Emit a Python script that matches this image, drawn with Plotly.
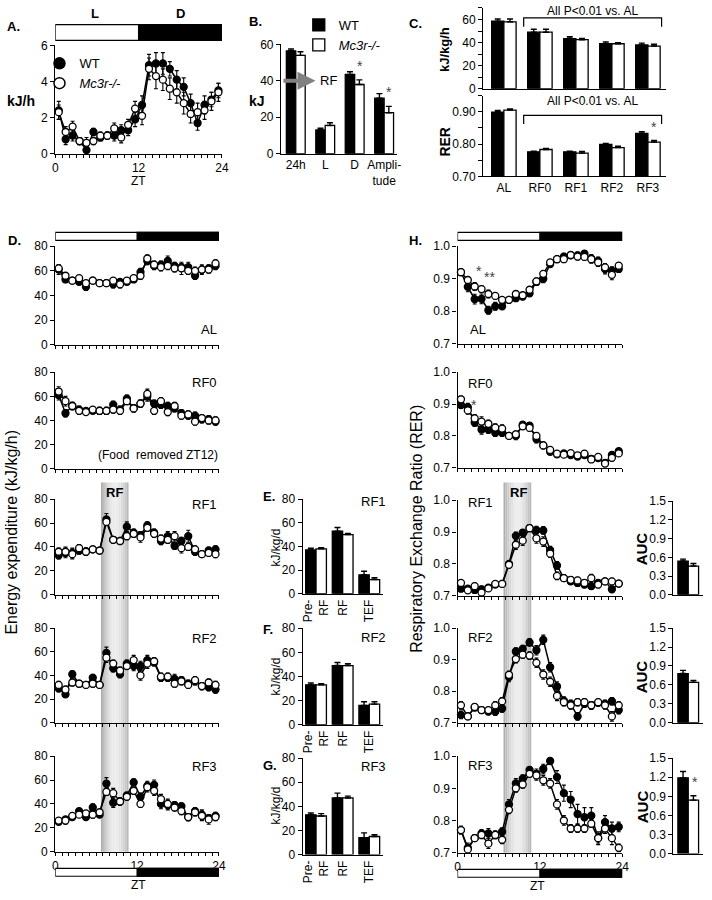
import math
import plotly.graph_objects as go

W, H = 712, 900

# ---------------- data ----------------
ZT = [0.5, 1.5, 2.5, 3.5, 4.5, 5.5, 6.5, 7.5, 8.5, 9.5, 10.5, 11.5,
      12.5, 13.5, 14.5, 15.5, 16.5, 17.5, 18.5, 19.5, 20.5, 21.5, 22.5, 23.5]
HOUR_TICKS = list(range(25))
LD = [0, 12, 24]
RF_WINDOW = [6.7, 10.75]

# A: kJ/h
A_wt = [2.4, 0.8, 1.0, 0.7, 0.2, 1.2, 0.9, 1.0, 1.0, 1.3, 1.3, 1.9, 2.7, 4.9, 5.0, 5.0, 4.7, 4.1, 3.7, 2.8, 1.7, 2.7, 3.0, 3.5]
A_ko = [2.3, 1.2, 1.5, 0.7, 0.6, 0.7, 1.0, 1.0, 1.4, 0.9, 1.6, 2.5, 2.1, 4.7, 4.3, 4.1, 3.6, 3.4, 2.8, 2.2, 2.3, 2.4, 2.9, 3.4]
A_wt_e = [0.5, 0.3, 0.3, 0.2, 0.3, 0.2, 0.2, 0.2, 0.3, 0.3, 0.3, 0.4, 0.5, 0.6, 0.6, 0.6, 0.4, 0.5, 0.5, 0.5, 0.4, 0.5, 0.4, 0.4]
A_ko_e = [0.4, 0.3, 0.3, 0.2, 0.3, 0.2, 0.2, 0.2, 0.3, 0.3, 0.3, 0.4, 0.5, 0.6, 0.7, 0.6, 0.6, 0.6, 0.6, 0.5, 0.5, 0.5, 0.5, 0.5]

# B: kJ
B_cats = ['24h', 'L', 'D', 'Ampli-<br>tude']
B_wt = [56.5, 13.0, 43.5, 30.5]
B_ko = [54.0, 15.5, 38.0, 22.5]
B_wt_e = [1.0, 1.0, 1.5, 2.5]
B_ko_e = [2.0, 1.5, 2.5, 3.5]

# C
C_cats = ['AL', 'RF0', 'RF1', 'RF2', 'RF3']
C_ee_wt = [58.5, 49.0, 43.5, 39.0, 38.0]
C_ee_ko = [58.0, 49.0, 42.5, 39.0, 37.0]
C_ee_wt_e = [2.0, 2.5, 1.5, 1.5, 1.5]
C_ee_ko_e = [2.5, 2.5, 1.0, 1.0, 1.5]
C_rer_wt = [0.899, 0.776, 0.776, 0.799, 0.833]
C_rer_ko = [0.905, 0.783, 0.772, 0.789, 0.806]
C_rer_wt_e = [0.005, 0.002, 0.002, 0.003, 0.005]
C_rer_ko_e = [0.004, 0.003, 0.005, 0.004, 0.005]

# D: energy expenditure (kJ/kg/h)
D_AL_wt = [61, 53, 52, 51, 47, 52, 50, 50, 49, 51, 51, 53, 59, 68, 64, 65, 68, 64, 63, 63, 56, 61, 62, 64]
D_AL_ko = [62, 56, 52, 54, 50, 52, 50, 50, 52, 49, 52, 54, 56, 70, 65, 63, 64, 62, 62, 60, 60, 61, 61, 66]
D_RF0_wt = [61, 46, 52, 49, 48, 48, 48, 48, 53, 49, 58, 50, 54, 60, 54, 53, 52, 50, 46, 44, 44, 41, 41, 39]
D_RF0_ko = [64, 56, 52, 48, 47, 49, 48, 48, 49, 48, 56, 50, 54, 62, 48, 56, 47, 52, 44, 45, 39, 42, 40, 40]
D_RF1_wt = [33, 35, 35, 37, 36, 38, 37, 63, 46, 45, 57, 52, 50, 58, 52, 45, 49, 41, 45, 49, 36, 34, 37, 38]
D_RF1_ko = [36, 36, 34, 39, 36, 38, 37, 61, 46, 45, 49, 51, 48, 56, 51, 47, 46, 49, 39, 40, 38, 34, 35, 34]
D_RF2_wt = [29, 24, 41, 33, 32, 38, 32, 59, 46, 41, 50, 48, 48, 53, 51, 38, 38, 37, 36, 33, 35, 31, 30, 28]
D_RF2_ko = [32, 28, 34, 33, 32, 33, 32, 55, 50, 44, 48, 53, 40, 50, 52, 39, 39, 33, 35, 32, 36, 31, 34, 32]
D_RF3_wt = [25, 27, 29, 34, 29, 37, 31, 57, 41, 42, 47, 58, 46, 55, 56, 40, 39, 39, 38, 29, 34, 31, 28, 30]
D_RF3_ko = [26, 26, 30, 31, 32, 31, 33, 50, 49, 42, 46, 51, 40, 54, 51, 44, 40, 37, 34, 29, 33, 30, 27, 29]
D_AL_wt_e = [4, 2, 2, 2, 3, 2, 2, 2, 3, 2, 2, 2, 3, 3, 3, 3, 4, 3, 3, 4, 3, 3, 3, 3]
D_AL_ko_e = [3, 2, 2, 2, 2, 2, 2, 2, 2, 3, 2, 2, 3, 3, 3, 3, 3, 3, 5, 3, 3, 4, 3, 3]
D_RF0_wt_e = [4, 3, 3, 3, 2, 2, 3, 3, 3, 3, 3, 3, 3, 4, 3, 3, 3, 3, 3, 3, 3, 3, 3, 3]
D_RF0_ko_e = [4, 4, 3, 3, 2, 2, 3, 3, 3, 3, 3, 3, 3, 4, 3, 3, 3, 3, 3, 3, 3, 3, 3, 3]
D_RF1_wt_e = [3, 4, 4, 3, 3, 2, 2, 5, 2, 2, 4, 3, 3, 3, 3, 3, 4, 3, 3, 5, 3, 2, 3, 3]
D_RF1_ko_e = [3, 4, 4, 3, 3, 2, 2, 3, 2, 2, 3, 3, 4, 3, 3, 3, 3, 4, 4, 3, 3, 2, 3, 3]
D_RF2_wt_e = [3, 2, 3, 2, 2, 3, 2, 5, 3, 3, 3, 4, 4, 4, 3, 3, 3, 4, 3, 3, 3, 3, 3, 3]
D_RF2_ko_e = [3, 3, 3, 2, 2, 3, 2, 4, 3, 3, 3, 4, 4, 4, 3, 3, 3, 3, 3, 3, 3, 3, 3, 3]
D_RF3_wt_e = [2, 2, 2, 2, 2, 3, 2, 5, 4, 3, 3, 3, 3, 4, 4, 4, 4, 3, 3, 3, 3, 4, 3, 3]
D_RF3_ko_e = [2, 3, 2, 2, 2, 3, 2, 3, 4, 3, 3, 3, 3, 4, 4, 4, 4, 3, 3, 3, 3, 4, 4, 3]

# E/F/G: kJ/kg/d
EFG_cats = ['Pre-<br>RF', 'RF', 'TEF']
E_wt = [37, 53, 16]; E_ko = [38, 50, 12]; E_wt_e = [1.5, 3, 3]; E_ko_e = [1, 1, 1.5]
F_wt = [33, 49, 16]; F_ko = [33, 49, 17]; F_wt_e = [1.5, 2.5, 3]; F_ko_e = [1, 1.5, 2]
G_wt = [33, 47, 14]; G_ko = [32, 47, 15]; G_wt_e = [1.5, 4, 4]; G_ko_e = [2, 1.5, 1.5]

# H: RER
H_AL_wt = [0.920, 0.875, 0.837, 0.838, 0.803, 0.815, 0.815, 0.835, 0.840, 0.845, 0.855, 0.890, 0.900, 0.945, 0.960, 0.968, 0.972, 0.972, 0.977, 0.962, 0.955, 0.930, 0.925, 0.930]
H_AL_ko = [0.920, 0.896, 0.876, 0.868, 0.853, 0.847, 0.835, 0.835, 0.853, 0.849, 0.866, 0.892, 0.915, 0.950, 0.960, 0.960, 0.973, 0.968, 0.967, 0.960, 0.950, 0.935, 0.912, 0.940]
H_RF0_wt = [0.897, 0.890, 0.842, 0.820, 0.820, 0.810, 0.810, 0.800, 0.800, 0.835, 0.832, 0.790, 0.770, 0.750, 0.742, 0.745, 0.740, 0.735, 0.740, 0.728, 0.730, 0.715, 0.740, 0.752]
H_RF0_ko = [0.915, 0.880, 0.855, 0.845, 0.838, 0.826, 0.823, 0.800, 0.805, 0.830, 0.825, 0.800, 0.770, 0.756, 0.744, 0.741, 0.746, 0.739, 0.744, 0.726, 0.734, 0.713, 0.731, 0.745]
H_RF1_wt = [0.722, 0.722, 0.718, 0.720, 0.725, 0.735, 0.737, 0.800, 0.888, 0.898, 0.912, 0.906, 0.905, 0.843, 0.795, 0.755, 0.745, 0.740, 0.735, 0.730, 0.740, 0.745, 0.720, 0.738]
H_RF1_ko = [0.740, 0.717, 0.730, 0.710, 0.723, 0.737, 0.737, 0.797, 0.860, 0.873, 0.912, 0.880, 0.870, 0.832, 0.762, 0.755, 0.750, 0.748, 0.740, 0.755, 0.735, 0.745, 0.745, 0.738]
H_RF2_wt = [0.725, 0.720, 0.748, 0.740, 0.735, 0.735, 0.745, 0.845, 0.926, 0.934, 0.955, 0.930, 0.963, 0.876, 0.815, 0.770, 0.760, 0.720, 0.760, 0.755, 0.763, 0.760, 0.768, 0.740]
H_RF2_ko = [0.755, 0.720, 0.750, 0.740, 0.740, 0.755, 0.768, 0.852, 0.902, 0.916, 0.913, 0.890, 0.853, 0.830, 0.785, 0.765, 0.755, 0.765, 0.765, 0.755, 0.765, 0.755, 0.720, 0.755]
H_RF3_wt = [0.770, 0.715, 0.745, 0.760, 0.760, 0.755, 0.765, 0.850, 0.915, 0.930, 0.957, 0.945, 0.960, 0.985, 0.935, 0.885, 0.865, 0.820, 0.810, 0.815, 0.745, 0.795, 0.775, 0.780]
H_RF3_ko = [0.770, 0.710, 0.745, 0.755, 0.728, 0.755, 0.740, 0.833, 0.900, 0.912, 0.945, 0.940, 0.925, 0.915, 0.850, 0.800, 0.775, 0.775, 0.775, 0.790, 0.745, 0.775, 0.745, 0.715]
H_AL_wt_e = [0.010, 0.015, 0.015, 0.015, 0.012, 0.012, 0.010, 0.010, 0.010, 0.010, 0.010, 0.010, 0.012, 0.010, 0.010, 0.010, 0.008, 0.010, 0.010, 0.012, 0.012, 0.015, 0.012, 0.010]
H_AL_ko_e = [0.008, 0.010, 0.012, 0.010, 0.012, 0.010, 0.008, 0.008, 0.008, 0.008, 0.008, 0.010, 0.010, 0.008, 0.008, 0.008, 0.008, 0.010, 0.010, 0.012, 0.012, 0.012, 0.015, 0.010]
H_RF0_wt_e = [0.010, 0.012, 0.012, 0.015, 0.012, 0.012, 0.012, 0.010, 0.012, 0.010, 0.010, 0.012, 0.010, 0.008, 0.008, 0.008, 0.008, 0.008, 0.008, 0.008, 0.008, 0.010, 0.010, 0.008]
H_RF0_ko_e = [0.010, 0.012, 0.012, 0.015, 0.012, 0.012, 0.012, 0.010, 0.010, 0.010, 0.010, 0.010, 0.010, 0.008, 0.008, 0.008, 0.008, 0.008, 0.008, 0.008, 0.008, 0.010, 0.010, 0.008]
H_RF1_wt_e = [0.008, 0.008, 0.010, 0.010, 0.008, 0.008, 0.008, 0.010, 0.012, 0.010, 0.010, 0.012, 0.012, 0.012, 0.012, 0.010, 0.010, 0.010, 0.010, 0.010, 0.010, 0.008, 0.010, 0.008]
H_RF1_ko_e = [0.008, 0.008, 0.010, 0.010, 0.008, 0.008, 0.008, 0.010, 0.015, 0.015, 0.010, 0.015, 0.015, 0.012, 0.012, 0.010, 0.010, 0.010, 0.010, 0.012, 0.010, 0.008, 0.010, 0.008]
H_RF2_wt_e = [0.012, 0.010, 0.010, 0.010, 0.010, 0.012, 0.012, 0.015, 0.012, 0.012, 0.012, 0.015, 0.015, 0.015, 0.015, 0.012, 0.012, 0.012, 0.012, 0.012, 0.010, 0.012, 0.012, 0.012]
H_RF2_ko_e = [0.012, 0.010, 0.010, 0.010, 0.010, 0.012, 0.012, 0.012, 0.012, 0.012, 0.012, 0.015, 0.015, 0.015, 0.015, 0.012, 0.012, 0.012, 0.012, 0.012, 0.010, 0.012, 0.015, 0.012]
H_RF3_wt_e = [0.012, 0.015, 0.010, 0.012, 0.015, 0.012, 0.012, 0.015, 0.015, 0.012, 0.010, 0.015, 0.015, 0.010, 0.020, 0.025, 0.025, 0.030, 0.030, 0.025, 0.020, 0.020, 0.020, 0.015]
H_RF3_ko_e = [0.012, 0.015, 0.010, 0.012, 0.015, 0.012, 0.012, 0.012, 0.012, 0.012, 0.010, 0.015, 0.015, 0.015, 0.015, 0.015, 0.012, 0.012, 0.012, 0.012, 0.015, 0.015, 0.020, 0.012]

# AUC (WT, Mc3r-/-)
AUC_pos = [0]
AUC_RF1 = [0.54, 0.46]; AUC_RF1_e = [0.03, 0.04]
AUC_RF2 = [0.78, 0.64]; AUC_RF2_e = [0.05, 0.03]
AUC_RF3 = [1.19, 0.84]; AUC_RF3_e = [0.10, 0.07]

# ---------------- figure ----------------
FONT = 'Liberation Sans, Arial, sans-serif'
fig = go.Figure()
counter = [0]
shapes = []
anns = []


def px(x):
    return x / W


def py(y):
    return 1 - y / H


def axes(xpx, ypx, xr, yr, xkw=None, ykw=None):
    counter[0] += 1
    k = counter[0]
    s = '' if k == 1 else str(k)
    base = dict(showline=True, linecolor='black', linewidth=1.3, ticks='outside',
                tickcolor='black', tickwidth=1.3, ticklen=4, showgrid=False,
                zeroline=False, tickfont=dict(size=12, color='black', family=FONT),
                fixedrange=True)
    xa = dict(base)
    xa.update(domain=[px(xpx[0]), px(xpx[1])], range=xr, anchor='y' + s)
    ya = dict(base)
    ya.update(domain=[py(ypx[1]), py(ypx[0])], range=yr, anchor='x' + s)
    if xkw:
        xa.update(xkw)
    if ykw:
        ya.update(ykw)
    fig.update_layout(**{'xaxis' + s: xa, 'yaxis' + s: ya})
    return 'x' + s, 'y' + s


def ts(xa, ya, wt, ko, wte, koe):
    for vals, errs, fill in ((wt, wte, 'black'), (ko, koe, 'white')):
        fig.add_trace(go.Scatter(
            x=ZT, y=vals, xaxis=xa, yaxis=ya, mode='lines+markers',
            line=dict(color='black', width=1.5),
            marker=dict(size=7, color=fill, line=dict(color='black', width=1.3)),
            error_y=dict(type='data', array=errs, color='black', thickness=1.1, width=2),
            showlegend=False, cliponaxis=False, hoverinfo='skip'))


def bars(xa, ya, cats, wt, ko, wte, koe, w, legend=False, lw=1.3):
    for vals, errs, fill, off, name in ((wt, wte, 'black', -w, 'WT'),
                                        (ko, koe, 'white', 0, '<i>Mc3r-/-</i>')):
        fig.add_trace(go.Bar(
            x=cats, y=vals, xaxis=xa, yaxis=ya, offset=off, width=w, name=name,
            marker=dict(color=fill, line=dict(color='black', width=lw)),
            error_y=dict(type='data', symmetric=False, array=errs,
                         arrayminus=[0] * len(vals), color='black', thickness=1.4, width=3),
            showlegend=legend, legend='legend2', hoverinfo='skip'))


def T(text, x, y, size=12, bold=False, xa='center', ya='middle', angle=0, color='black'):
    if bold:
        text = '<b>' + text + '</b>'
    anns.append(dict(text=text, x=px(x), y=py(y), xref='paper', yref='paper',
                     showarrow=False, xanchor=xa, yanchor=ya, textangle=angle,
                     font=dict(size=size, color=color, family=FONT)))


def ld_bar(xref, y0, y1):
    shapes.append(dict(type='rect', xref=xref, yref='paper', x0=LD[0], x1=LD[2],
                       y0=py(y1), y1=py(y0), fillcolor='white',
                       line=dict(color='black', width=1.2)))
    shapes.append(dict(type='rect', xref=xref, yref='paper', x0=LD[1], x1=LD[2],
                       y0=py(y1), y1=py(y0), fillcolor='black',
                       line=dict(color='black', width=1.2)))


def rf_band(xref, y0, y1):
    n = 14
    a, b = RF_WINDOW
    for i in range(n):
        t = (i + 0.5) / n
        c = int(168 + 64 * math.sin(math.pi * t) + 10 * t)
        shapes.append(dict(type='rect', xref=xref, yref='paper', layer='below',
                           x0=a + (b - a) * i / n, x1=a + (b - a) * (i + 1) / n,
                           y0=py(y1), y1=py(y0), fillcolor='rgb(%d,%d,%d)' % (c, c, c),
                           line=dict(width=0)))


def star(xa, ya, x, y, text='*', size=14):
    anns.append(dict(text=text, x=x, y=y, xref=xa, yref=ya, showarrow=False,
                     font=dict(size=size, color='#444', family=FONT)))


hour_x = dict(tickvals=HOUR_TICKS, ticklen=3, showticklabels=False)
hour_x_lab = dict(tickvals=HOUR_TICKS, ticklen=3,
                  ticktext=[str(h) if h in LD else '' for h in HOUR_TICKS])

# ---- A ----
xa, ya = axes((53, 222), (39, 149), [0, 24], [0, 6], hour_x_lab, dict(tickvals=[0, 2, 4, 6]))
ts(xa, ya, A_wt, A_ko, A_wt_e, A_ko_e)
for nm, fill in (('WT', 'black'), ('<i>Mc3r-/-</i>', 'white')):
    fig.add_trace(go.Scatter(x=[None], y=[None], xaxis=xa, yaxis=ya, mode='markers', name=nm,
                             marker=dict(size=11, color=fill, line=dict(color='black', width=1.5)),
                             legend='legend', showlegend=True))
ld_bar(xa, 18, 34)
T('A.', 2, 20, 13, True, 'left')
T('L', 93, 7, 13, True)
T('D', 180, 7, 13, True)
T('kJ/h', 2, 95, 14, True, 'left')
T('ZT', 137, 177, 12)

# ---- B ----
xb, yb = axes((282, 400), (38, 149), [-0.5, 3.45], [0, 60],
              dict(ticks='', tickfont=dict(size=12, color='black', family=FONT)),
              dict(tickvals=[0, 20, 40, 60]))
bars(xb, yb, B_cats, B_wt, B_ko, B_wt_e, B_ko_e, 0.32, legend=True)
anns.append(dict(text='', x=0.67, y=40, ax=-0.47, ay=40, xref=xb, yref=yb, axref=xb, ayref=yb,
                 showarrow=True, arrowcolor='#808080', arrowwidth=4, arrowhead=2, arrowsize=0.9))
T('RF', 319, 75, 13, False, 'left')
star(xb, yb, 2.17, 48.0)
star(xb, yb, 3.17, 34.0)
T('B.', 247, 15, 13, True, 'left')
T('kJ', 247, 95, 14, True, 'left')

# ---- C ----
xc1, yc1 = axes((487, 672), (1, 83), [-0.575, 4.49], [0, 70],
                dict(ticks='', showticklabels=False),
                dict(tickvals=[0, 20, 40, 60],
                     minor=dict(dtick=10, tick0=0, ticks='outside', ticklen=4,
                                tickcolor='black', tickwidth=1.3)))
bars(xc1, yc1, C_cats, C_ee_wt, C_ee_ko, C_ee_wt_e, C_ee_ko_e, 0.34)
xc2, yc2 = axes((487, 672), (90, 172), [-0.575, 4.49], [0.70, 0.95],
                dict(ticks=''),
                dict(tick0=0.7, dtick=0.1, tickformat='.2f',
                     minor=dict(dtick=0.05, tick0=0.7, ticks='outside', ticklen=4,
                                tickcolor='black', tickwidth=1.3)))
bars(xc2, yc2, C_cats, C_rer_wt, C_rer_ko, C_rer_wt_e, C_rer_ko_e, 0.34)
for xr_, yr_, yl, yt, ytxt in ((xc1, yc1, 61.5, 53.8, 67.5), (xc2, yc2, 0.889, 0.862, 0.934)):
    shapes.append(dict(type='path', xref=xr_, yref=yr_,
                       path='M 0.55 %f L 0.55 %f L 4.38 %f L 4.38 %f' % (yt, yl, yl, yt),
                       line=dict(color='black', width=1.2)))
    anns.append(dict(text='All P&lt;0.01 vs. AL', x=2.45, y=ytxt, xref=xr_, yref=yr_,
                     showarrow=False, font=dict(size=12, color='black', family=FONT)))
star(xc2, yc2, 4.17, 0.853)
T('C.', 410, 17, 13, True, 'left')
T('kJ/kg/h', 448, 43, 13, True, angle=-90)
T('RER', 448, 137, 14, True, angle=-90)

# ---- D ----
D_series = [
    ((243, 343), D_AL_wt, D_AL_ko, D_AL_wt_e, D_AL_ko_e),
    ((371, 469), D_RF0_wt, D_RF0_ko, D_RF0_wt_e, D_RF0_ko_e),
    ((500, 597), D_RF1_wt, D_RF1_ko, D_RF1_wt_e, D_RF1_ko_e),
    ((631, 727), D_RF2_wt, D_RF2_ko, D_RF2_wt_e, D_RF2_ko_e),
    ((761, 858), D_RF3_wt, D_RF3_ko, D_RF3_wt_e, D_RF3_ko_e),
]
dref = None
for i, (ypx, wt, ko, we, ke) in enumerate(D_series):
    xkw = hour_x_lab if i == 4 else hour_x
    xd, yd = axes((53, 219), ypx, [0, 24], [0, 80], xkw, dict(tickvals=[0, 20, 40, 60, 80]))
    ts(xd, yd, wt, ko, we, ke)
    if i == 0:
        ld_bar(xd, 229, 237)
    if i == 4:
        ld_bar(xd, 875, 883)
        dref = xd
rf_band(dref, 483, 858)
T('RF', 113, 493, 13, True)
T('D.', 3, 237, 13, True, 'left')
T('AL', 219, 328, 13, xa='right')
T('RF0', 219, 381, 13, xa='right')
T('(Food&nbsp; removed ZT12)', 220, 455, 12, xa='right')
T('RF1', 219, 505, 13, xa='right')
T('RF2', 219, 641, 13, xa='right')
T('RF3', 219, 771, 13, xa='right')
T('ZT', 137, 892, 12)
T('Energy expenditure (kJ/kg/h)', 9, 533, 16, angle=-90)

# ---- E / F / G ----
EFG = [((500, 596), E_wt, E_ko, E_wt_e, E_ko_e, 'E.', 497, 'RF1', 502, 549),
       ((631, 729), F_wt, F_ko, F_wt_e, F_ko_e, 'F.', 632, 'RF2', 640, 680),
       ((763, 861), G_wt, G_ko, G_wt_e, G_ko_e, 'G.', 770, 'RF3', 771, 811)]
for ypx, wt, ko, we, ke, lab, ly, rl, ry, ky in EFG:
    xe, ye = axes((304, 385), ypx, [-0.5, 2.5], [0, 80],
                  dict(ticks='', tickangle=-90,
                       tickfont=dict(size=12, color='black', family=FONT)),
                  dict(tickvals=[0, 20, 40, 60, 80]))
    bars(xe, ye, EFG_cats, wt, ko, we, ke, 0.39)
    T(lab, 262, ly, 13, True, 'left')
    T(rl, 376, ry, 13)
    T('kJ/kg/d', 277, ky, 12, angle=-90)

# ---- H ----
H_series = [
    ((243, 342), H_AL_wt, H_AL_ko, H_AL_wt_e, H_AL_ko_e),
    ((371, 468), H_RF0_wt, H_RF0_ko, H_RF0_wt_e, H_RF0_ko_e),
    ((501, 598), H_RF1_wt, H_RF1_ko, H_RF1_wt_e, H_RF1_ko_e),
    ((631, 727), H_RF2_wt, H_RF2_ko, H_RF2_wt_e, H_RF2_ko_e),
    ((761, 859), H_RF3_wt, H_RF3_ko, H_RF3_wt_e, H_RF3_ko_e),
]
href = None
hax = []
for i, (ypx, wt, ko, we, ke) in enumerate(H_series):
    xkw = hour_x_lab if i == 4 else hour_x
    xh, yh = axes((461, 628), ypx, [0, 24], [0.7, 1.0], xkw,
                  dict(tickvals=[0.7, 0.8, 0.9, 1.0], tickformat='.1f'))
    hax.append((xh, yh))
    ts(xh, yh, wt, ko, we, ke)
    if i == 0:
        ld_bar(xh, 229, 237)
    if i == 4:
        ld_bar(xh, 876, 884)
        href = xh
rf_band(href, 483, 859)
star(hax[0][0], hax[0][1], 3.2, 0.925)
star(hax[0][0], hax[0][1], 4.7, 0.905, '**')
star(hax[1][0], hax[1][1], 2.4, 0.897)
T('RF', 523, 493, 13, True)
T('H.', 410, 237, 13, True, 'left')
T('AL', 482, 328, 13)
T('RF0', 470, 382, 13, xa='left')
T('RF1', 470, 503, 13, xa='left')
T('RF2', 470, 640, 13, xa='left')
T('RF3', 470, 770, 13, xa='left')
T('ZT', 542, 893, 12)
T('Respiratory Exchange Ratio (RER)', 420, 530, 16, angle=-90)

# ---- AUC ----
AUCP = [((502, 597), AUC_RF1, AUC_RF1_e, 550),
        ((631, 727), AUC_RF2, AUC_RF2_e, 680),
        ((763, 860), AUC_RF3, AUC_RF3_e, 812)]
for j, (ypx, vals, errs, ty) in enumerate(AUCP):
    xu, yu = axes((680, 710), ypx, [-0.5, 0.5], [0, 1.5],
                  dict(ticks='', showticklabels=False, type='linear'),
                  dict(tickvals=[0, 0.3, 0.6, 0.9, 1.2, 1.5], tickformat='.1f'))
    bars(xu, yu, AUC_pos, [vals[0]], [vals[1]], [errs[0]], [errs[1]], 0.35)
    T('AUC', 648, ty, 15, True, angle=-90)
    if j == 2:
        star(xu, yu, 0.22, 1.12)

fig.update_layout(
    width=W, height=H, margin=dict(l=0, r=0, t=0, b=0),
    paper_bgcolor='white', plot_bgcolor='rgba(0,0,0,0)',
    font=dict(family=FONT, color='black', size=12),
    barmode='overlay', shapes=shapes, annotations=anns,
    legend=dict(x=px(37), y=py(42), xanchor='left', yanchor='top',
                bgcolor='rgba(0,0,0,0)', font=dict(size=13, family=FONT),
                tracegroupgap=0, itemclick=False, itemdoubleclick=False),
    legend2=dict(x=px(300), y=py(3), xanchor='left', yanchor='top',
                 bgcolor='rgba(0,0,0,0)', font=dict(size=13, family=FONT),
                 tracegroupgap=0, itemclick=False, itemdoubleclick=False),
)

fig.write_html('out.html', config={'displayModeBar': False},
               post_script="document.body.style.margin='0px';"
                           "document.body.style.overflow='hidden';")
